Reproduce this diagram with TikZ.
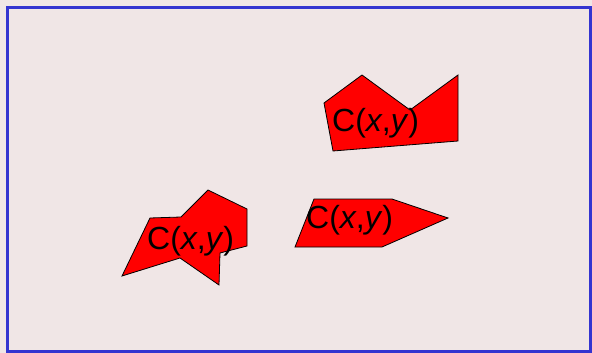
\documentclass[tikz,border=0pt]{standalone}
\usepackage{fontspec}
\setmainfont{Liberation Sans}
\definecolor{bgpink}{RGB}{240,230,230}
\definecolor{frameblue}{RGB}{52,52,208}
\begin{document}
\begin{tikzpicture}[x=1pt,y=-1pt,
  shapepoly/.style={draw=black,line width=0.8pt,fill=red,line join=miter},
  lbl/.style={anchor=base west,inner sep=0pt,font=\fontsize{32}{36}\selectfont}]
\useasboundingbox (0,0) rectangle (592,353);
\fill[bgpink] (0,0) rectangle (592,353);
\draw[frameblue,line width=3pt] (7.5,7.5) rectangle (590.5,351.5);
% shape 1
\draw[shapepoly] (122,276) -- (150,218) -- (181,217) -- (208,190) -- (247,209)
  -- (247,246) -- (220,253) -- (219,285) -- (180,258) -- cycle;
% shape 2
\draw[shapepoly] (295,247) -- (314,199) -- (392,199) -- (448,218) -- (382,247) -- cycle;
% shape 3
\draw[shapepoly] (324,103) -- (362,75) -- (410,110) -- (458,75) -- (458,141) -- (333,151) -- cycle;
\node[lbl] (t1) at (147,249) {C(\textit{x},\textit{y})};
\node[lbl] (t2) at (306,228) {C(\textit{x},\textit{y})};
\node[lbl] (t3) at (332,131) {C(\textit{x},\textit{y})};
\end{tikzpicture}
\end{document}
